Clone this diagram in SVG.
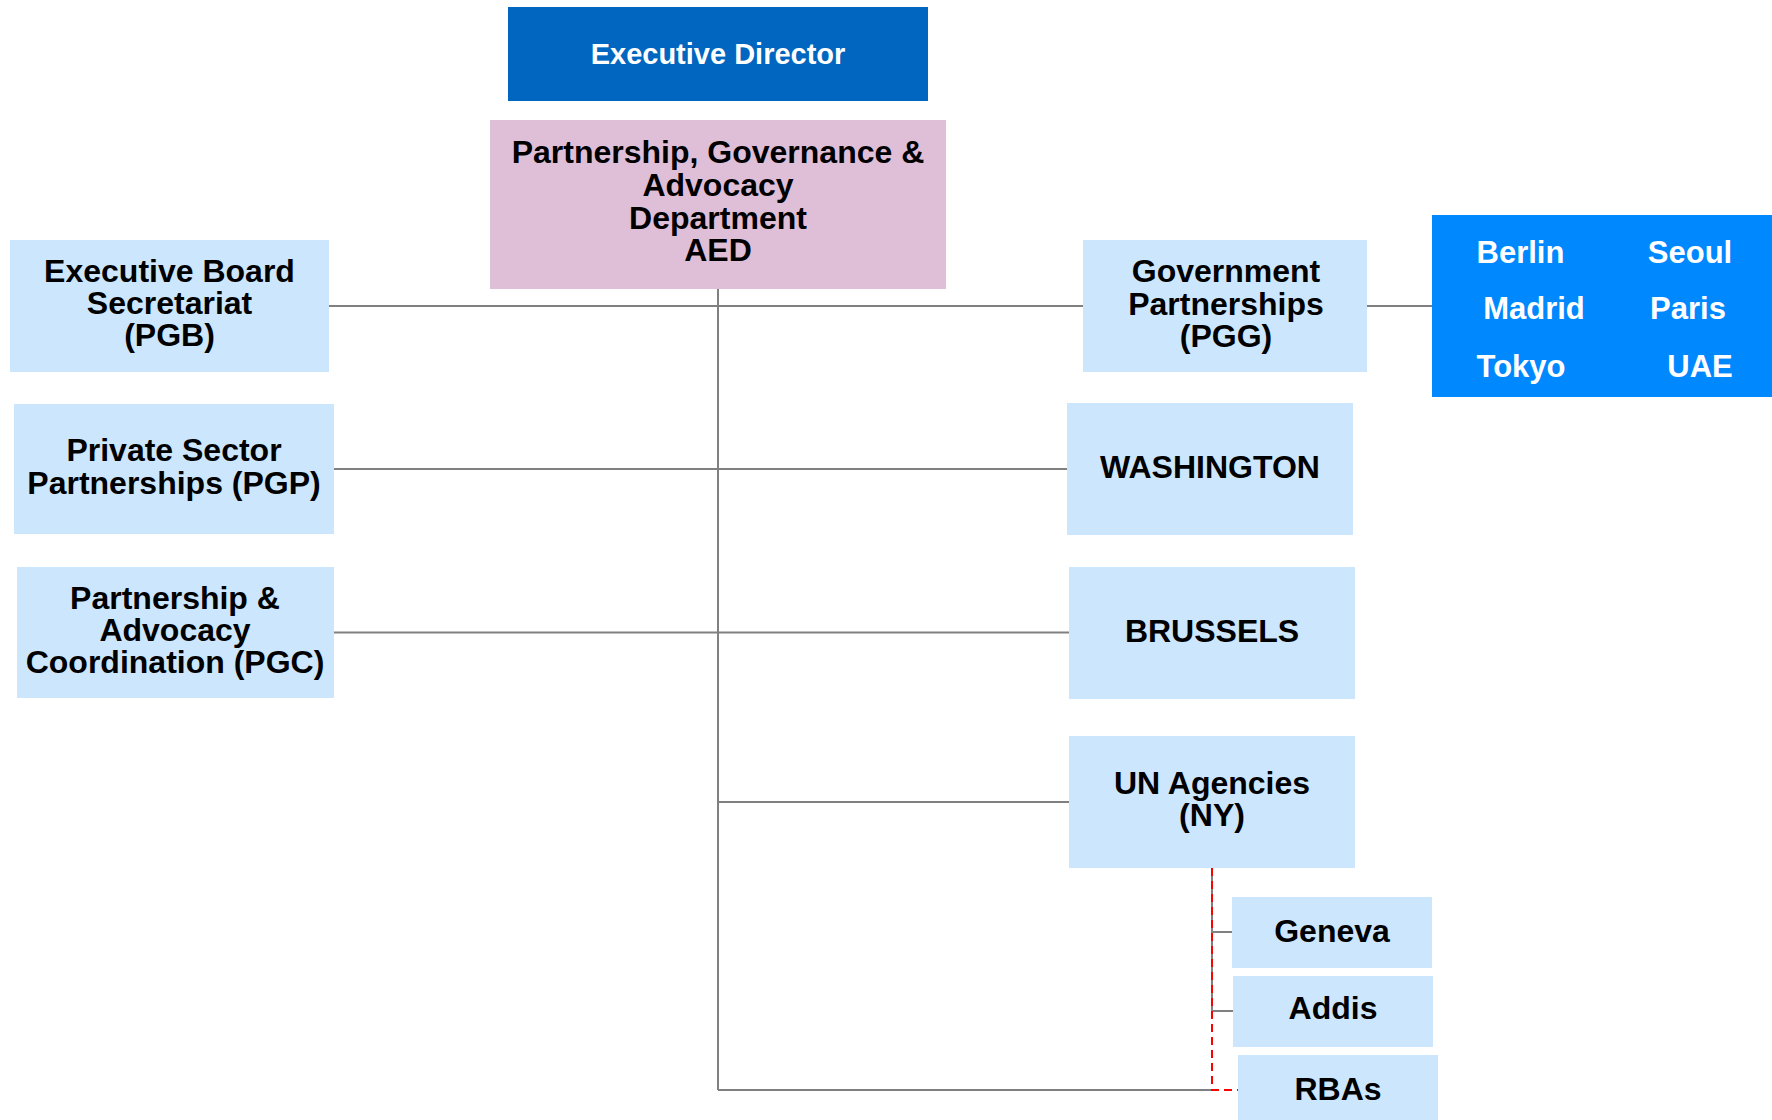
<svg xmlns="http://www.w3.org/2000/svg" width="1772" height="1120" viewBox="0 0 1772 1120">
<style>
.lb{fill:#cce6fd}
.t{font-family:"Liberation Sans",Arial,sans-serif;font-weight:bold;font-size:32px;fill:#000;text-anchor:middle}
.c{font-family:"Liberation Sans",Arial,sans-serif;font-weight:bold;font-size:31px;fill:#fff;text-anchor:middle}
.ln{stroke:#808080;stroke-width:2;fill:none}
.rd{stroke:#ff0000;stroke-width:2;fill:none;stroke-dasharray:8,5}
</style>
<rect width="1772" height="1120" fill="#fff"/>
<g id="connectors">
<path class="ln" d="M718 289V1090"/>
<path class="ln" d="M329 306H1083M1367 306H1432"/>
<path class="ln" d="M334 469H1067"/>
<path class="ln" d="M334 632.5H1069"/>
<path class="ln" d="M718 802H1069"/>
<path class="ln" d="M718 1090H1212"/>
<path class="ln" d="M1212 868V1011M1212 932H1232M1212 1011H1233"/>
<path class="rd" d="M1212 868V1090H1238"/>
</g>
<g id="exec-director"><rect x="508" y="7" width="420" height="94" fill="#0066c0"/><text class="c" x="718" y="64" style="font-size:29px">Executive Director</text></g>
<g id="aed"><rect x="490" y="120" width="456" height="169" fill="#dfbed8"/><text class="t" x="718" y="163">Partnership, Governance &amp;</text><text class="t" x="718" y="196">Advocacy</text><text class="t" x="718" y="229">Department</text><text class="t" x="718" y="261">AED</text></g>
<g id="pgb"><rect class="lb" x="10" y="240" width="319" height="132"/><text class="t" x="169.5" y="282">Executive Board</text><text class="t" x="169.5" y="314">Secretariat</text><text class="t" x="169.5" y="346">(PGB)</text></g>
<g id="pgp"><rect class="lb" x="14" y="404" width="320" height="130"/><text class="t" x="174" y="461">Private Sector</text><text class="t" x="174" y="494">Partnerships (PGP)</text></g>
<g id="pgc"><rect class="lb" x="17" y="567" width="317" height="131"/><text class="t" x="175" y="609">Partnership &amp;</text><text class="t" x="175" y="641">Advocacy</text><text class="t" x="175" y="673">Coordination (PGC)</text></g>
<g id="pgg"><rect class="lb" x="1083" y="240" width="284" height="132"/><text class="t" x="1226" y="282">Government</text><text class="t" x="1226" y="315">Partnerships</text><text class="t" x="1226" y="347">(PGG)</text></g>
<g id="cities"><rect x="1432" y="215" width="340" height="182" fill="#0088ff"/>
<text class="c" x="1520.5" y="263">Berlin</text>
<text class="c" x="1690" y="263">Seoul</text>
<text class="c" x="1534" y="319">Madrid</text>
<text class="c" x="1688" y="319">Paris</text>
<text class="c" x="1521" y="377">Tokyo</text>
<text class="c" x="1700" y="377">UAE</text></g>
<g id="washington"><rect class="lb" x="1067" y="403" width="286" height="132"/><text class="t" x="1210" y="478">WASHINGTON</text></g>
<g id="brussels"><rect class="lb" x="1069" y="567" width="286" height="132"/><text class="t" x="1212" y="642">BRUSSELS</text></g>
<g id="un-agencies"><rect class="lb" x="1069" y="736" width="286" height="132"/><text class="t" x="1212" y="794">UN Agencies</text><text class="t" x="1212" y="826">(NY)</text></g>
<g id="geneva"><rect class="lb" x="1232" y="897" width="200" height="71"/><text class="t" x="1332" y="942">Geneva</text></g>
<g id="addis"><rect class="lb" x="1233" y="976" width="200" height="71"/><text class="t" x="1333" y="1019">Addis</text></g>
<g id="rbas"><rect class="lb" x="1238" y="1055" width="200" height="65"/><text class="t" x="1338" y="1100">RBAs</text></g>
</svg>
